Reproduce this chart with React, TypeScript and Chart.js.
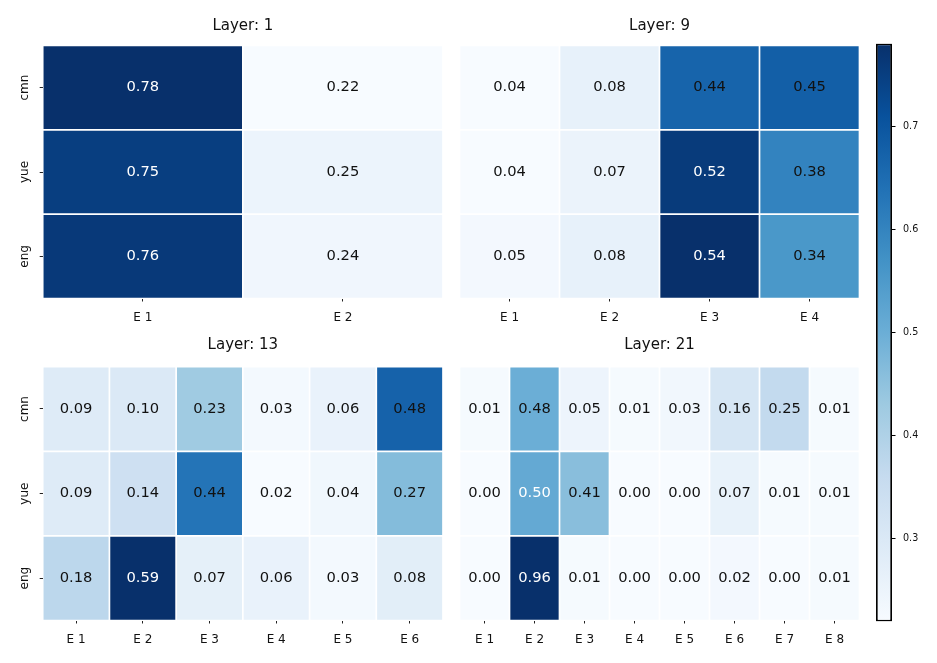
import React, { useEffect, useRef } from 'react';
import { Chart, registerables } from 'chart.js';

Chart.register(...registerables);

const FONT = '"DejaVu Sans", "Liberation Sans", sans-serif';

// ---- data ----
const ROWS = ['cmn', 'yue', 'eng'];

const L1_TITLE = 'Layer: 1';
const L1_COLS = ['E 1', 'E 2'];
const L1_CMN = [0.78, 0.22];
const L1_YUE = [0.75, 0.25];
const L1_ENG = [0.76, 0.24];

const L9_TITLE = 'Layer: 9';
const L9_COLS = ['E 1', 'E 2', 'E 3', 'E 4'];
const L9_CMN = [0.04, 0.08, 0.44, 0.45];
const L9_YUE = [0.04, 0.07, 0.52, 0.38];
const L9_ENG = [0.05, 0.08, 0.54, 0.34];

const L13_TITLE = 'Layer: 13';
const L13_COLS = ['E 1', 'E 2', 'E 3', 'E 4', 'E 5', 'E 6'];
const L13_CMN = [0.09, 0.10, 0.23, 0.03, 0.06, 0.48];
const L13_YUE = [0.09, 0.14, 0.44, 0.02, 0.04, 0.27];
const L13_ENG = [0.18, 0.59, 0.07, 0.06, 0.03, 0.08];

const L21_TITLE = 'Layer: 21';
const L21_COLS = ['E 1', 'E 2', 'E 3', 'E 4', 'E 5', 'E 6', 'E 7', 'E 8'];
const L21_CMN = [0.01, 0.48, 0.05, 0.01, 0.03, 0.16, 0.25, 0.01];
const L21_YUE = [0.00, 0.50, 0.41, 0.00, 0.00, 0.07, 0.01, 0.01];
const L21_ENG = [0.00, 0.96, 0.01, 0.00, 0.00, 0.02, 0.00, 0.01];

const CB_TICKS = [0.3, 0.4, 0.5, 0.6, 0.7];

// matplotlib "Blues"
const BLUES = ['#f7fbff', '#deebf7', '#c6dbef', '#9ecae1', '#6baed6', '#4292c6', '#2171b5', '#08519c', '#08306b'];

function hexToRgb(h: string) {
  return [parseInt(h.slice(1, 3), 16), parseInt(h.slice(3, 5), 16), parseInt(h.slice(5, 7), 16)];
}

function blues(t: number) {
  const tt = Math.max(0, Math.min(1, t));
  const n = BLUES.length - 1;
  const pos = tt * n;
  const i = Math.min(n - 1, Math.floor(pos));
  const f = pos - i;
  const a = hexToRgb(BLUES[i]);
  const b = hexToRgb(BLUES[i + 1]);
  const c = a.map((v, k) => Math.round(v + (b[k] - v) * f));
  return `rgb(${c[0]},${c[1]},${c[2]})`;
}

type Box = { l: number; t: number; r: number; b: number };
type PanelSpec = {
  title: string;
  cols: string[];
  values: number[][];
  showY: boolean;
  left: number;
  top: number;
  width: number;
  height: number;
  area: Box; // page coords
  titleY: number; // page coords
};

const TITLE_SIZE = 15;
const TICK_SIZE = 12;
const ANNOT_SIZE = 14.7;
const X_AXIS_H = 33.5;
const TEXT_DARK = '#111111';

function makeHeatmap(canvas: HTMLCanvasElement, spec: PanelSpec) {
  const flat = spec.values.flat();
  const vmin = Math.min(...flat);
  const vmax = Math.max(...flat);
  const a = {
    l: spec.area.l - spec.left,
    t: spec.area.t - spec.top,
    r: spec.area.r - spec.left,
    b: spec.area.b - spec.top,
  };
  const titleH = TITLE_SIZE * 1.2;
  const titleTop = spec.titleY - spec.top - titleH / 2;
  const titleBottom = a.t - titleTop - titleH;
  const padBottom = spec.height - a.b - X_AXIS_H;
  const padRight = spec.width - a.r;
  const padLeft = spec.showY ? 0 : a.l;

  const annot = {
    id: 'annot',
    afterDatasetsDraw(chart: any) {
      const ctx = chart.ctx;
      ctx.save();
      ctx.font = `${ANNOT_SIZE}px ${FONT}`;
      ctx.textAlign = 'center';
      ctx.textBaseline = 'middle';
      spec.values.forEach((row, i) => {
        const meta = chart.getDatasetMeta(i);
        meta.data.forEach((el: any, j: number) => {
          const p = el.getProps(['x', 'y', 'base'], true);
          const v = row[j];
          ctx.fillStyle = v >= 0.495 ? '#ffffff' : TEXT_DARK;
          ctx.fillText(v.toFixed(2), p.x, (p.y + p.base) / 2);
        });
      });
      ctx.restore();
    },
  };

  const yScale: any = {
    type: 'linear',
    stacked: true,
    min: 0,
    max: ROWS.length,
    reverse: true,
    display: spec.showY,
    border: { display: false },
    grid: {
      display: true,
      drawOnChartArea: false,
      drawTicks: true,
      tickLength: 3,
      color: '#222',
      lineWidth: 1,
    },
    ticks: {
      font: { family: FONT, size: TICK_SIZE },
      color: TEXT_DARK,
      minRotation: 90,
      maxRotation: 90,
      crossAlign: 'center',
      padding: 2,
      autoSkip: false,
      callback: (_v: any, i: number) => ROWS[i],
    },
    afterBuildTicks: (s: any) => {
      s.ticks = ROWS.map((_r, i) => ({ value: i + 0.5 }));
    },
  };
  if (spec.showY) {
    yScale.afterFit = (s: any) => {
      s.width = a.l;
    };
  }

  return new Chart(canvas, {
    type: 'bar',
    data: {
      labels: spec.cols,
      datasets: spec.values.map((row, i) => ({
        label: ROWS[i],
        data: row.map(() => 1),
        backgroundColor: row.map((v) => blues((v - vmin) / (vmax - vmin))),
        borderColor: '#ffffff',
        borderWidth: 0.85,
        borderSkipped: false,
        barPercentage: 1,
        categoryPercentage: 1,
        inflateAmount: 0,
      })),
    },
    options: {
      animation: false,
      responsive: false,
      events: [],
      layout: { padding: { left: padLeft, right: padRight, top: 0, bottom: padBottom } },
      plugins: {
        legend: { display: false },
        tooltip: { enabled: false },
        title: {
          display: true,
          text: spec.title,
          fullSize: false,
          color: TEXT_DARK,
          font: { family: FONT, size: TITLE_SIZE, weight: 'normal' },
          padding: { top: titleTop, bottom: titleBottom },
        },
      },
      scales: {
        x: {
          type: 'category',
          stacked: true,
          offset: true,
          border: { display: false },
          grid: {
            display: true,
            offset: false,
            drawOnChartArea: false,
            drawTicks: true,
            tickLength: 3,
            color: '#222',
            lineWidth: 1,
          },
          ticks: {
            font: { family: FONT, size: TICK_SIZE },
            color: TEXT_DARK,
            padding: 9,
            maxRotation: 0,
            minRotation: 0,
            autoSkip: false,
          },
          afterFit: (s: any) => {
            s.height = X_AXIS_H;
          },
        },
        y: yScale,
      },
    } as any,
    plugins: [annot],
  });
}

function makeColorbar(canvas: HTMLCanvasElement, vmin: number, vmax: number) {
  const CB = { left: 862, top: 0, width: 75, height: 663 };
  const area = { l: 876, t: 43.5, r: 892, b: 621.5 };
  const padLeft = area.l - CB.left;
  const axisW = CB.width - (area.r - CB.left);
  return new Chart(canvas, {
    type: 'bar',
    data: {
      labels: [''],
      datasets: [
        {
          data: [[vmin, vmax]],
          backgroundColor: (c: any) => {
            const ca = c.chart.chartArea;
            if (!ca) return BLUES[4];
            const g = c.chart.ctx.createLinearGradient(0, ca.bottom, 0, ca.top);
            BLUES.forEach((col, i) => g.addColorStop(i / (BLUES.length - 1), col));
            return g;
          },
          borderColor: '#000000',
          borderWidth: 1.8,
          borderSkipped: false,
          barPercentage: 1,
          categoryPercentage: 1,
          inflateAmount: 0,
        } as any,
      ],
    },
    options: {
      animation: false,
      responsive: false,
      events: [],
      layout: { padding: { left: padLeft, right: 0, top: area.t, bottom: CB.height - area.b } },
      plugins: { legend: { display: false }, tooltip: { enabled: false }, title: { display: false } },
      scales: {
        x: { display: false, offset: true },
        y: {
          position: 'right',
          min: vmin,
          max: vmax,
          border: { display: false },
          grid: { display: true, drawOnChartArea: false, drawTicks: true, tickLength: 3.5, color: '#000', lineWidth: 1 },
          ticks: {
            font: { family: FONT, size: 9.6 },
            color: TEXT_DARK,
            padding: 7.5,
            autoSkip: false,
            callback: (v: any) => Number(v).toFixed(1),
          },
          afterBuildTicks: (s: any) => {
            s.ticks = CB_TICKS.map((v) => ({ value: v }));
          },
          afterFit: (s: any) => {
            s.width = axisW;
          },
        },
      },
    } as any,
  });
}

const PANELS: PanelSpec[] = [
  {
    title: L1_TITLE, cols: L1_COLS, values: [L1_CMN, L1_YUE, L1_ENG], showY: true,
    left: 0, top: 0, width: 452, height: 332,
    area: { l: 42.7, t: 45.5, r: 443, b: 298.5 }, titleY: 26,
  },
  {
    title: L9_TITLE, cols: L9_COLS, values: [L9_CMN, L9_YUE, L9_ENG], showY: false,
    left: 452, top: 0, width: 410, height: 332,
    area: { l: 459.5, t: 45.5, r: 859.5, b: 298.5 }, titleY: 26,
  },
  {
    title: L13_TITLE, cols: L13_COLS, values: [L13_CMN, L13_YUE, L13_ENG], showY: true,
    left: 0, top: 332, width: 452, height: 331,
    area: { l: 42.7, t: 366.7, r: 443, b: 620.5 }, titleY: 345.5,
  },
  {
    title: L21_TITLE, cols: L21_COLS, values: [L21_CMN, L21_YUE, L21_ENG], showY: false,
    left: 452, top: 332, width: 410, height: 331,
    area: { l: 459.5, t: 366.7, r: 859.5, b: 620.5 }, titleY: 345.5,
  },
];

function Panel({ spec }: { spec: PanelSpec }) {
  const ref = useRef<HTMLCanvasElement | null>(null);
  useEffect(() => {
    if (!ref.current) return;
    const chart = makeHeatmap(ref.current, spec);
    return () => chart.destroy();
  }, [spec]);
  return (
    <canvas
      ref={ref}
      width={spec.width}
      height={spec.height}
      style={{ position: 'absolute', left: spec.left, top: spec.top, width: spec.width, height: spec.height }}
    />
  );
}

function Colorbar() {
  const ref = useRef<HTMLCanvasElement | null>(null);
  useEffect(() => {
    if (!ref.current) return;
    const flat = [L1_CMN, L1_YUE, L1_ENG].flat();
    const chart = makeColorbar(ref.current, Math.min(...flat), Math.max(...flat));
    return () => chart.destroy();
  }, []);
  return (
    <canvas
      ref={ref}
      width={75}
      height={663}
      style={{ position: 'absolute', left: 862, top: 0, width: 75, height: 663 }}
    />
  );
}

export default function App() {
  return (
    <div style={{ position: 'absolute', left: 0, top: 0, width: 937, height: 663, background: '#ffffff', overflow: 'hidden' }}>
      {PANELS.map((p) => (
        <Panel key={p.title} spec={p} />
      ))}
      <Colorbar />
    </div>
  );
}
